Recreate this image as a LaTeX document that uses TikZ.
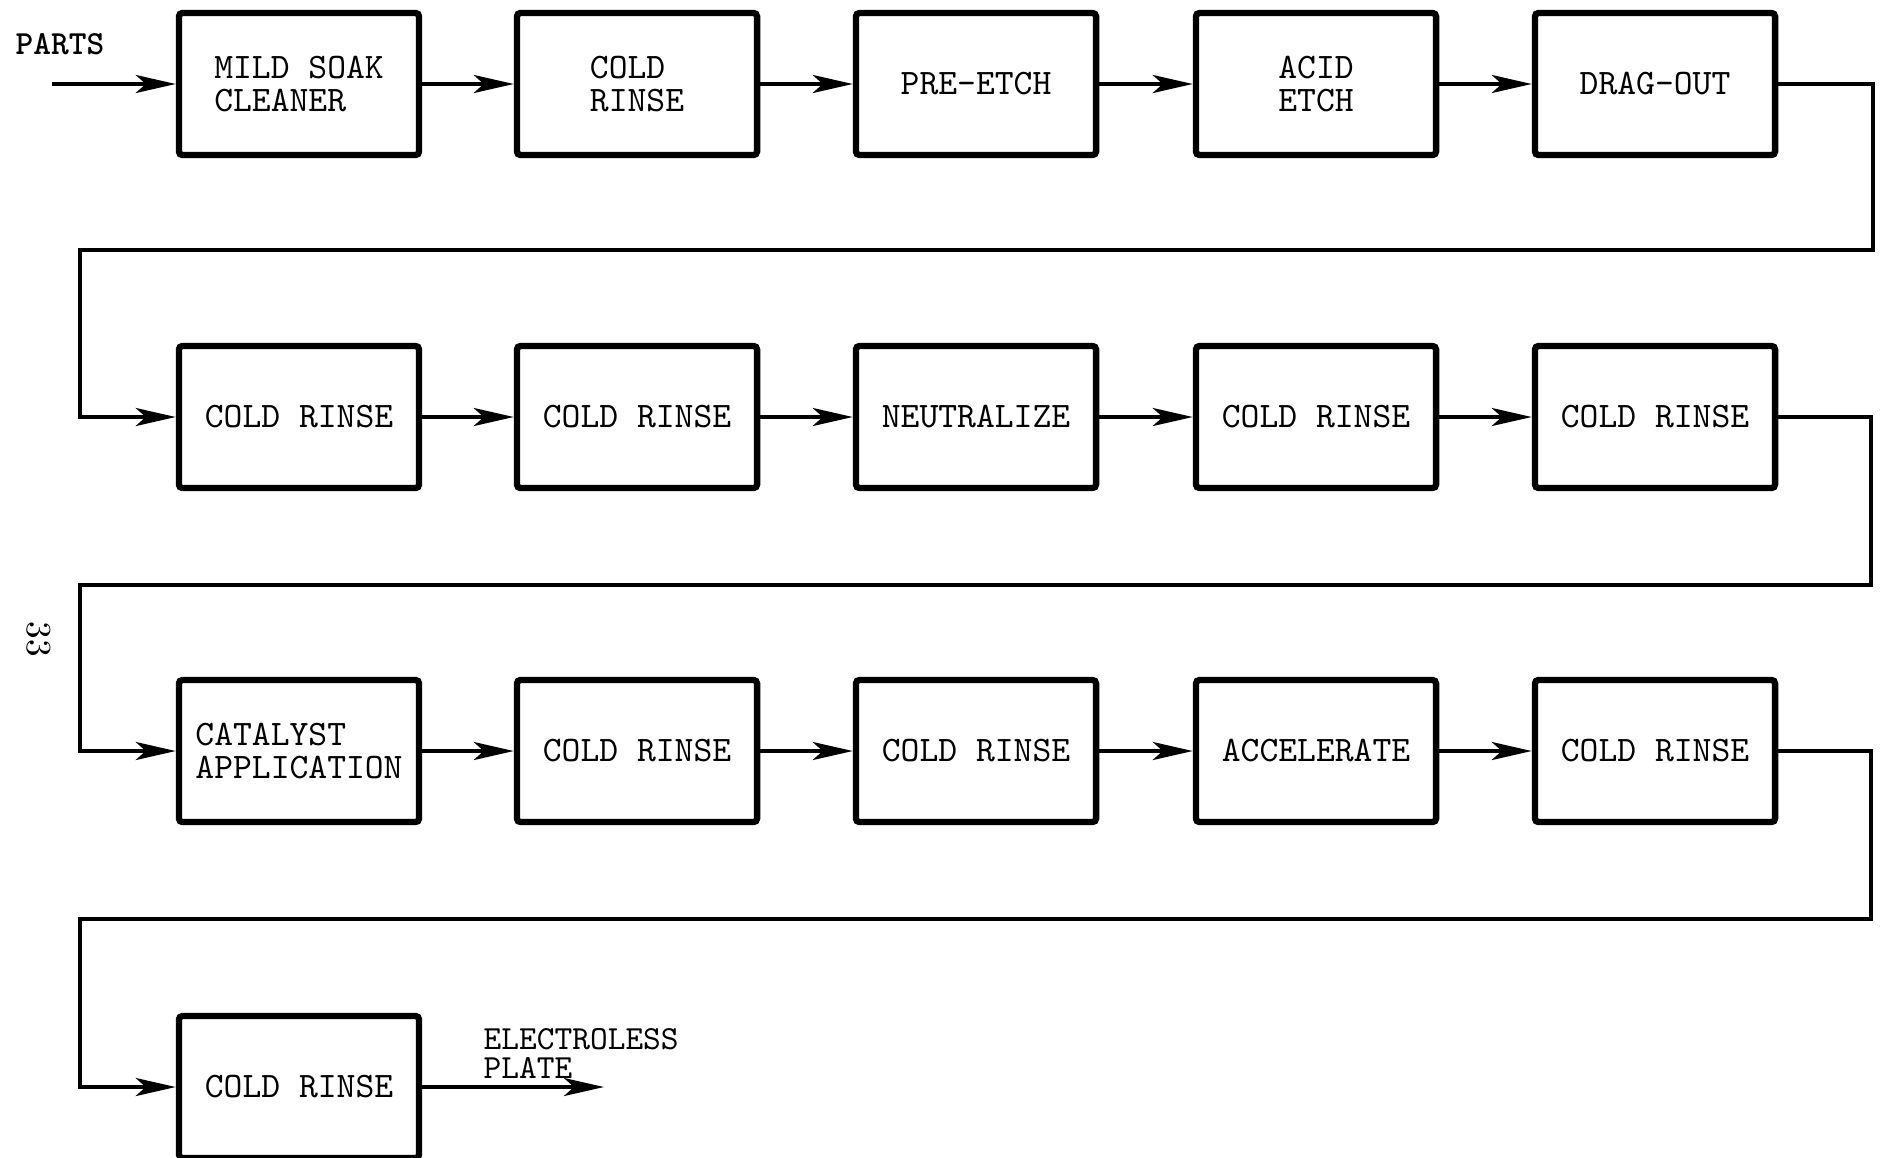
\documentclass[tikz,border=0pt]{standalone}
\usetikzlibrary{arrows.meta}

\begin{document}
\begin{tikzpicture}[x=0.01cm, y=-0.01cm,
  box/.style={draw, line width=1.8pt, rounded corners=1pt,
    minimum width=2.40cm, minimum height=1.42cm, inner sep=0pt,
    align=left, font=\ttfamily\fontsize{10.2}{9.4}\selectfont},
  lbl/.style={inner sep=0pt, align=left, font=\ttfamily\fontsize{9.6}{8.2}\selectfont},
  flow/.style={line width=1.1pt, -{Stealth[length=4mm, width=1.8mm, inset=1mm]}}]
  \useasboundingbox (0,0) rectangle (1883,1157);
  % row 1
  \node[box] (soak) at (299,84) {MILD SOAK\\CLEANER};
  \node[box] (rinseA) at (637,84) {COLD\\RINSE};
  \node[box] (preetch) at (976,84) {PRE-ETCH};
  \node[box] (acid) at (1316,84) {ACID\\ETCH};
  \node[box] (dragout) at (1655,84) {DRAG-OUT};
  % row 2
  \node[box] (rinseB) at (299,417) {COLD RINSE};
  \node[box] (rinseC) at (637,417) {COLD RINSE};
  \node[box] (neutral) at (976,417) {NEUTRALIZE};
  \node[box] (rinseD) at (1316,417) {COLD RINSE};
  \node[box] (rinseE) at (1655,417) {COLD RINSE};
  % row 3
  \node[box] (catalyst) at (299,751) {CATALYST\\APPLICATION};
  \node[box] (rinseF) at (637,751) {COLD RINSE};
  \node[box] (rinseG) at (976,751) {COLD RINSE};
  \node[box] (accel) at (1316,751) {ACCELERATE};
  \node[box] (rinseH) at (1655,751) {COLD RINSE};
  % row 4
  \node[box] (rinseI) at (299,1087) {COLD RINSE};

  % texts outside the boxes
  \node[lbl, font=\ttfamily\bfseries\fontsize{9.6}{8.2}\selectfont, anchor=north west] (parts) at (15,33) {PARTS};
  \node[lbl, anchor=north west] (plate) at (483,1028) {ELECTROLESS\\PLATE};
  \node[font=\fontsize{10}{10}\selectfont, rotate=-90] (pageno) at (39,639) {33};

  % turning points
  \coordinate (in) at (52,84);
  \coordinate (out) at (604,1087);
  \coordinate (rA) at (1873,250);
  \coordinate (lA) at (80,250);
  \coordinate (rB) at (1871,585);
  \coordinate (lB) at (80,585);
  \coordinate (rC) at (1871,919);
  \coordinate (lC) at (80,919);

  % flow
  \draw[flow] (in) -- (soak);
  \draw[flow] (soak) -- (rinseA);
  \draw[flow] (rinseA) -- (preetch);
  \draw[flow] (preetch) -- (acid);
  \draw[flow] (acid) -- (dragout);
  \draw[flow] (dragout.east) -| (rA) -- (lA) |- (rinseB.west);
  \draw[flow] (rinseB) -- (rinseC);
  \draw[flow] (rinseC) -- (neutral);
  \draw[flow] (neutral) -- (rinseD);
  \draw[flow] (rinseD) -- (rinseE);
  \draw[flow] (rinseE.east) -| (rB) -- (lB) |- (catalyst.west);
  \draw[flow] (catalyst) -- (rinseF);
  \draw[flow] (rinseF) -- (rinseG);
  \draw[flow] (rinseG) -- (accel);
  \draw[flow] (accel) -- (rinseH);
  \draw[flow] (rinseH.east) -| (rC) -- (lC) |- (rinseI.west);
  \draw[flow] (rinseI) -- (out);
\end{tikzpicture}
\end{document}
